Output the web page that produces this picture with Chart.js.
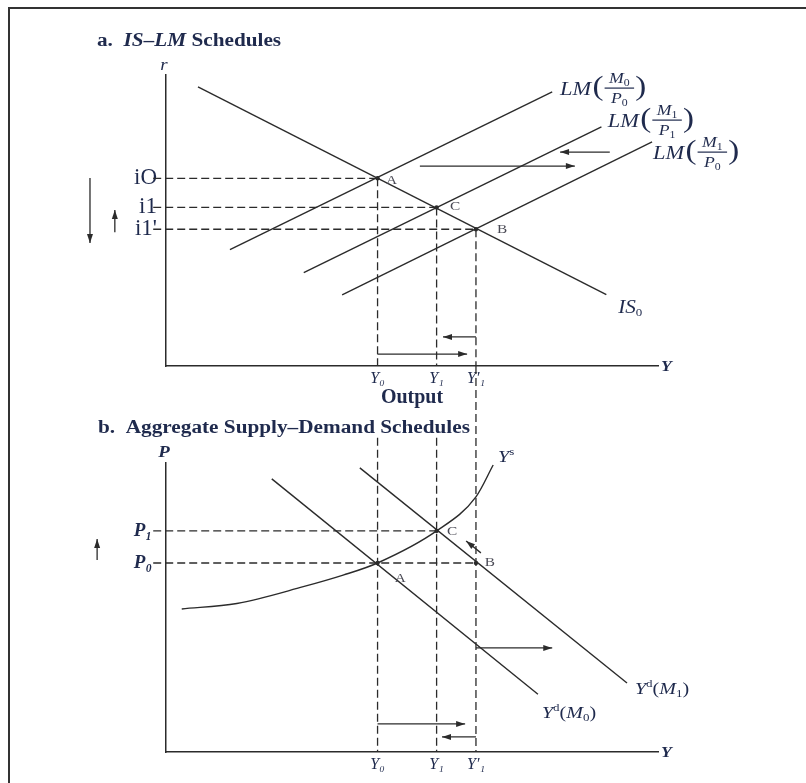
<!DOCTYPE html>
<html>
<head>
<meta charset="utf-8">
<title>IS-LM and aggregate supply-demand</title>
<script src="https://cdn.jsdelivr.net/npm/chart.js@4.4.1/dist/chart.umd.min.js"></script>
<style>
  body { margin: 0; background: #fff; }
  #page { position: relative; width: 806px; height: 783px; overflow: hidden; }
  #frame { position: absolute; left: 8px; top: 7px; width: 900px; height: 900px; border-top: 2px solid #333; border-left: 2px solid #333; }
  canvas { position: absolute; left: 0; top: 0; }
</style>
</head>
<body>
<div id="page">
  <div id="frame"></div>
  <canvas id="islm" width="806" height="783"></canvas>
  <canvas id="asad" width="806" height="783"></canvas>
</div>
<script>
// output levels, shared by both horizontal axes
const outputTicks = [4.3, 5.5, 6.3];
const outputLabels = ['Y₀', 'Y₁', 'Y′₁'];

// panel a: interest rate levels
const rateTicks = [4.7, 5.45, 6.45];
const rateLabels = ["i1'", 'i1', 'iO'];

// panel b: price levels
const priceTicks = [6.54, 7.65];
const priceLabels = ['P₀', 'P₁'];

// panel a schedules, [Y, r]
const isSchedule = [[0.65, 9.59], [8.95, 2.45]];
const lmM0P0 = [[1.3, 4.0], [7.85, 9.42]];
const lmM1P1 = [[2.8, 3.21], [8.85, 8.22]];
const lmM1P0 = [[3.58, 2.44], [9.88, 7.7]];

// panel b schedules, [Y, P]
const supplyCurve = [[0.32, 4.95], [1.44, 5.14], [2.79, 5.72], [3.6, 6.12], [4.3, 6.54], [5.5, 7.65], [6.3, 8.83], [6.65, 9.93]];
const demandM0 = [[2.15, 9.45], [7.56, 2.0]];
const demandM1 = [[3.94, 9.83], [9.37, 2.39]];

// shift arrows, [tail, tip]
const arrowsA = [
  [[5.16, 6.87], [8.31, 6.87]],
  [[9.02, 7.35], [8.01, 7.35]],
  [[-1.545, 6.46], [-1.545, 4.23]],
  [[-1.04, 4.6], [-1.04, 5.36]],
  [[4.3, 0.41], [6.12, 0.41]],
  [[6.3, 1.0], [5.63, 1.0]]
];
const arrowsB = [
  [[-1.4, 6.64], [-1.4, 7.37]],
  [[6.4, 6.89], [6.1, 7.3]],
  [[6.3, 3.6], [7.85, 3.6]],
  [[4.3, 0.97], [6.08, 0.97]],
  [[6.3, 0.52], [5.61, 0.52]]
];

const [Y0, Y1, Y1p] = outputTicks;
const [r1p, r1, r0] = rateTicks;
const [P0, P1] = priceTicks;

const SERIF = '"Liberation Serif", "DejaVu Serif", serif';
const INK = '#2b2b2b';
const TEXT = '#1f2a4d';
const STRETCH = 1.18;

const font = (style, size) => `${style} ${size}px ${SERIF}`;

function seg(points, extra) {
  return Object.assign({
    data: points.map(p => ({ x: p[0], y: p[1] })),
    showLine: true,
    borderColor: INK,
    borderWidth: 1.4,
    pointRadius: 0,
    clip: false
  }, extra);
}

function dashed(points) {
  return seg(points, { borderDash: [8, 4], borderWidth: 1.3 });
}

function arrow(points) {
  return seg(points, { borderWidth: 1.3, arrow: true });
}

function dots(points) {
  return seg(points, { showLine: false, pointRadius: 2.2, pointBackgroundColor: INK, pointBorderWidth: 0 });
}

// heads go on the tip of every arrow dataset, also outside the plot area
const arrowHeads = {
  id: 'arrowHeads',
  afterDatasetsDraw(chart) {
    const { x, y } = chart.scales;
    const ctx = chart.ctx;
    chart.data.datasets.forEach(ds => {
      if (!ds.arrow) return;
      const [a, b] = ds.data;
      const x0 = x.getPixelForValue(a.x), y0 = y.getPixelForValue(a.y);
      const x1 = x.getPixelForValue(b.x), y1 = y.getPixelForValue(b.y);
      ctx.save();
      ctx.translate(x1, y1);
      ctx.rotate(Math.atan2(y1 - y0, x1 - x0));
      ctx.beginPath();
      ctx.moveTo(0, 0);
      ctx.lineTo(-9, -3);
      ctx.lineTo(-9, 3);
      ctx.closePath();
      ctx.fillStyle = INK;
      ctx.fill();
      ctx.restore();
    });
  }
};

// text made of pieces: [text, font, dy]
function rich(ctx, x, y, parts, align) {
  ctx.save();
  ctx.textBaseline = 'alphabetic';
  let w = 0;
  parts.forEach(p => { ctx.font = p[1]; w += ctx.measureText(p[0]).width; });
  ctx.translate(x, y);
  ctx.scale(STRETCH, 1);
  let cx = align === 'center' ? -w / 2 : 0;
  parts.forEach(p => {
    ctx.font = p[1];
    ctx.fillText(p[0], cx, p[2] || 0);
    cx += ctx.measureText(p[0]).width;
  });
  ctx.restore();
}

function atValue(chart, vx, vy, parts, size) {
  const { x, y } = chart.scales;
  rich(chart.ctx, x.getPixelForValue(vx), y.getPixelForValue(vy) + size * 0.33, parts);
}

function lmLabel(chart, vx, vy, num, den) {
  const { x, y } = chart.scales;
  const ctx = chart.ctx;
  ctx.save();
  ctx.translate(x.getPixelForValue(vx), y.getPixelForValue(vy));
  ctx.scale(STRETCH, 1);
  ctx.textBaseline = 'alphabetic';
  ctx.font = font('italic', 19);
  ctx.fillText('LM', 0, 6.5);
  let cx = ctx.measureText('LM').width + 1;
  ctx.font = font('', 28);
  ctx.fillText('(', cx, 7);
  cx += ctx.measureText('(').width + 1;
  const fw = 25;
  const piece = (t, base) => {
    ctx.font = font('italic', 15);
    const w1 = ctx.measureText(t[0]).width;
    ctx.font = font('', 10);
    const w2 = ctx.measureText(t[1]).width;
    const left = cx + (fw - w1 - w2) / 2;
    ctx.font = font('italic', 15);
    ctx.fillText(t[0], left, base);
    ctx.font = font('', 10);
    ctx.fillText(t[1], left + w1, base + 3);
  };
  piece(num, -5);
  ctx.fillRect(cx, -0.6, fw, 1.2);
  piece(den, 15);
  cx += fw + 1;
  ctx.font = font('', 28);
  ctx.fillText(')', cx, 7);
  ctx.restore();
}

function drawPanelA(chart) {
  const ctx = chart.ctx;
  const area = chart.chartArea;
  ctx.fillStyle = TEXT;
  rich(ctx, area.left - 69, area.top - 29, [['a.  ', font('bold', 18)], ['IS–LM', font('bold italic', 18)], [' Schedules', font('bold', 18)]]);
  rich(ctx, area.left - 2, area.top - 5, [['r', font('italic', 16)]], 'center');
  rich(ctx, area.right + 3, area.bottom + 5, [['Y', font('bold italic', 15)]]);
  atValue(chart, 9.19, 2.03, [['IS', font('italic', 18)], ['0', font('', 11), 3]], 18);
  lmLabel(chart, 8.01, 9.55, ['M', '0'], ['P', '0']);
  lmLabel(chart, 8.98, 8.45, ['M', '1'], ['P', '1']);
  lmLabel(chart, 9.9, 7.35, ['M', '1'], ['P', '0']);
  ctx.fillStyle = '#4a4a55';
  atValue(chart, 4.47, 6.39, [['A', font('', 13)]], 13);
  atValue(chart, 5.77, 5.5, [['C', font('', 13)]], 13);
  atValue(chart, 6.73, 4.71, [['B', font('', 13)]], 13);
}

function drawPanelB(chart) {
  const ctx = chart.ctx;
  const area = chart.chartArea;
  ctx.fillStyle = TEXT;
  rich(ctx, area.left - 68, area.top - 30, [['b.  Aggregate Supply–Demand Schedules', font('bold', 18)]]);
  rich(ctx, area.left - 2, area.top - 6, [['P', font('bold italic', 16)]], 'center');
  rich(ctx, area.right + 3, area.bottom + 5, [['Y', font('bold italic', 15)]]);
  atValue(chart, 6.75, 10.24, [['Y', font('italic', 17)], ['s', font('', 11), -7]], 17);
  atValue(chart, 9.53, 2.21, [['Y', font('italic', 17)], ['d', font('', 11), -7], ['(', font('', 17)], ['M', font('italic', 17)], ['1', font('', 11), 3], [')', font('', 17)]], 17);
  atValue(chart, 7.64, 1.38, [['Y', font('italic', 17)], ['d', font('', 11), -7], ['(', font('', 17)], ['M', font('italic', 17)], ['0', font('', 11), 3], [')', font('', 17)]], 17);
  ctx.fillStyle = '#4a4a55';
  atValue(chart, 4.65, 6.02, [['A', font('', 13)]], 13);
  atValue(chart, 5.71, 7.65, [['C', font('', 13)]], 13);
  atValue(chart, 6.48, 6.57, [['B', font('', 13)]], 13);
}

function xScale(withTitle) {
  return {
    type: 'linear', min: 0, max: 10,
    grid: { display: false, drawTicks: false },
    border: { display: true, color: INK, width: 1.5 },
    afterBuildTicks: s => { s.ticks = outputTicks.map(v => ({ value: v })); },
    afterFit: s => { s.height = withTitle ? 48 : 25; },
    ticks: {
      autoSkip: false, maxRotation: 0, padding: 3, color: TEXT,
      font: { family: SERIF, size: 16, style: 'italic' },
      callback: (v, i) => outputLabels[i]
    },
    title: {
      display: withTitle, text: 'Output', color: TEXT,
      font: { family: SERIF, size: 20, weight: 'bold' },
      padding: { top: 0, bottom: 4 }
    }
  };
}

function yScale(values, labels, fontOpts, pad) {
  return {
    type: 'linear', min: 0, max: 10,
    grid: { display: false, drawTicks: false },
    border: { display: true, color: INK, width: 1.5 },
    afterBuildTicks: s => { s.ticks = values.map(v => ({ value: v })); },
    afterFit: s => { s.width = 60; },
    ticks: { padding: pad, color: TEXT, font: fontOpts, callback: (v, i) => labels[i] }
  };
}

const baseOptions = {
  responsive: false,
  animation: false,
  events: [],
  plugins: { legend: { display: false }, tooltip: { enabled: false } }
};

new Chart(document.getElementById('islm'), {
  type: 'scatter',
  data: {
    datasets: [
      seg(isSchedule), seg(lmM0P0), seg(lmM1P1), seg(lmM1P0),
      dashed([[-0.26, r0], [Y0, r0]]),
      dashed([[-0.26, r1], [Y1, r1]]),
      dashed([[-0.26, r1p], [Y1p, r1p]]),
      dashed([[Y0, r0], [Y0, 0]]),
      dashed([[Y1, r1], [Y1, 0]]),
      dashed([[Y1p, r1p], [Y1p, 0]]),
      ...arrowsA.map(arrow),
      dots([[Y0, r0], [Y1, r1], [Y1p, r1p]])
    ]
  },
  options: Object.assign({}, baseOptions, {
    layout: { padding: { left: 106, right: 148, top: 75, bottom: 783 - 366 - 48 } },
    scales: {
      x: xScale(true),
      y: yScale(rateTicks, rateLabels, { family: SERIF, size: 23 }, 9)
    }
  }),
  plugins: [arrowHeads, { id: 'panelText', afterDraw: drawPanelA }]
});

new Chart(document.getElementById('asad'), {
  type: 'scatter',
  data: {
    datasets: [
      seg(supplyCurve, { tension: 0.4, cubicInterpolationMode: 'monotone' }),
      seg(demandM0), seg(demandM1),
      dashed([[-0.26, P1], [Y1, P1]]),
      dashed([[-0.26, P0], [Y1p, P0]]),
      // guides continue down from panel a
      dashed([[Y0, 10.87], [Y0, 0]]),
      dashed([[Y1, 10.87], [Y1, 0]]),
      dashed([[Y1p, 13.36], [Y1p, 0]]),
      ...arrowsB.map(arrow),
      dots([[Y0, P0], [Y1, P1], [Y1p, P0]])
    ]
  },
  options: Object.assign({}, baseOptions, {
    layout: { padding: { left: 106, right: 148, top: 463, bottom: 783 - 752 - 25 } },
    scales: {
      x: xScale(false),
      y: yScale(priceTicks, priceLabels, { family: SERIF, size: 19, style: 'italic', weight: 'bold' }, 14)
    }
  }),
  plugins: [arrowHeads, { id: 'panelText', afterDraw: drawPanelB }]
});
</script>
</body>
</html>
